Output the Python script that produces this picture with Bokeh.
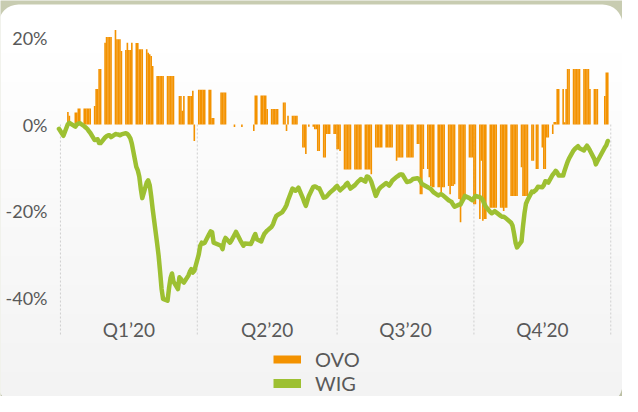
import numpy as np
import pandas as pd
from bokeh.plotting import figure
from bokeh.models import Range1d, FixedTicker, BoxAnnotation, Legend, LegendItem
from bokeh.embed import file_html
from bokeh.resources import INLINE

nan = float("nan")

# ---------------- data ----------------
first_session = "2019-12-27"
last_session = "2020-12-30"
closed_days = ["2019-12-31", "2020-01-01", "2020-01-06", "2020-04-10", "2020-04-13",
               "2020-05-01", "2020-06-11", "2020-11-11", "2020-12-24", "2020-12-25"]
quarter_edges = ["2019-12-28", "2020-03-29", "2020-07-01", "2020-10-01", "2021-01-01"]
quarter_labels = ["Q1\u201920", "Q2\u201920", "Q3\u201920", "Q4\u201920"]
y_ticks = [20, 0, -20, -40]
y_tick_labels = ["20%", "0%", "-20%", "-40%"]
series_names = ["OVO", "WIG"]

# OVO relative performance (%), one value per session
ovo = [
    nan,
    nan, 2.9, 2.0,
    2.8, 2.8, 3.7, 3.7,
    3.7, 3.7, 3.7, 3.7, 3.7,
    4.3, 8.2, 8.2, 12.8, 12.8,
    18.9, 20.2, 20.2, 20.2, 20.2,
    21.8, 19.7, 19.7, 19.7, 17.0,
    17.2, 18.9, 17.2, 17.2, 18.9,
    18.8, 18.8, 17.4, 17.4, 17.4,
    17.4, 16.6, 16.2, 15.8, 13.5,
    11.2, 11.2, 11.2, 11.2, 11.2,
    11.2, 11.2, 11.2, 11.2, 11.2,
    nan, 6.6, 6.6, 3.2, 6.6,
    6.6, 6.6, 6.6, 7.8, -3.8,
    8.0, 8.0, 8.0, 8.0, 8.0,
    8.0, 8.0, 1.5, 1.5,
    7.4, 7.4, 7.4, 7.4,
    nan, nan, nan, -0.6, nan,
    nan, -0.6, nan, nan,
    nan, nan, -1.5, 6.7, 6.7,
    6.7, 6.7, 6.7, 6.7, 3.6,
    3.6, 3.6, 3.6, 3.6, 3.6,
    nan, 5.1, 5.1, -1.5, 2.0,
    2.0, 2.0, 2.0, 2.0, nan,
    -5.3, -5.3, -6.8, -0.5,
    -0.5, -1.1, -1.1, -6.1, -6.1,
    -7.6, -7.6, -2.2, -2.2, -2.2,
    -2.2, -2.2, -5.7, -5.7, -6.1,
    -10.4, -10.4, -10.4, -10.4, -10.4,
    -10.4, -10.4, -10.4, -10.4, -10.4,
    -10.4, -10.4, -10.4, -10.4, -11.5,
    -5.3, -5.3, -5.3, -5.3, -5.3,
    -5.3, -5.3, -5.3, -5.3, -5.3,
    -8.4, -7.6, -7.6, -7.6, -7.6,
    -7.6, -7.6, -7.6, -7.6, -7.6,
    -4.5, -4.5, -16.1, -16.1, -10.3,
    -10.3, -12.2, -14.2, -14.5, -14.5,
    -14.5, -14.5, -15.7, -14.5, -14.5,
    -14.2, -16.1, -14.2, -14.2, -13.8,
    -17.2, -22.6, -17.2, -17.2, -17.2,
    -7.6, -7.6, -7.6, -18.4, -18.4,
    -21.8, -8.4, -22.2, -21.8, -21.8,
    -19.2, -19.2, -19.2, -19.2, -19.2,
    -19.2, -19.2, -20.0, -19.2, -19.2,
    -16.5, -16.5, -16.5, -16.5, -16.5,
    -9.9, -16.5, -16.5, -16.5, -16.5,
    -8.4, -8.4, -10.3, -10.3,
    -5.3, -10.3, -10.3, -3.0, -3.0,
    -2.2, 0.6, 0.6, 8.2, 8.2,
    8.2, 0.5, 8.2, 12.8, 12.8,
    12.8, 12.8, 12.8, 12.8, 12.8,
    12.8, 12.8, 12.8, 12.8, 8.2,
    8.2, 8.2, 8.2,
    6.6, 12.0, 12.0,
]

# WIG index change (%), one value per session
wig = [
    -1.0,
    -2.6, 0.1, 0.4,
    -0.5, 0.0, 0.2, 0.3,
    -0.4, -0.7, -1.0, -1.5, -1.9,
    -3.6, -3.5, -3.4, -4.3, -4.3,
    -3.0, -2.7, -2.5, -2.5, -2.9,
    -2.2, -2.3, -2.3, -2.5, -2.3,
    -2.0, -2.2, -2.6, -3.2, -4.4,
    -9.8, -10.6, -12.0, -14.8, -17.0,
    -13.4, -12.9, -14.0, -16.5, -19.5,
    -27.5, -30.3, -34.0, -38.0, -40.3,
    -40.7, -37.8, -35.5, -34.4, -36.3,
    -38.0, -35.3, -35.7, -36.2, -36.5,
    -34.9, -34.0, -33.4, -34.2, -33.8,
    -30.0, -28.0, -27.3, -27.5, -27.3,
    -25.3, -24.7, -24.9, -27.3,
    -28.0, -28.8, -27.0, -26.2,
    -27.3, -26.8, -26.1, -25.5, -24.8,
    -26.8, -27.4, -28.0, -27.5,
    -27.6, -26.9, -26.0, -25.3, -26.5,
    -27.0, -26.1, -25.3, -24.9, -24.5,
    -23.6, -23.0, -22.0, -21.2, -20.9,
    -20.3, -19.8, -19.3, -18.6, -17.5,
    -14.8, -15.0, -15.3, -15.0, -14.6,
    -17.0, -18.0, -18.8, -16.5,
    -14.4, -14.3, -14.4, -14.7, -14.7,
    -16.9, -16.8, -16.6, -16.2, -15.8,
    -14.9, -14.5, -14.2, -14.7, -15.2,
    -14.3, -13.8, -13.5, -14.2, -14.8,
    -14.0, -13.6, -13.2, -12.9, -12.6,
    -13.2, -12.0, -12.1, -12.5, -13.2,
    -16.5, -15.8, -15.0, -14.6, -14.3,
    -13.5, -13.8, -14.1, -13.6, -13.0,
    -12.1, -11.9, -11.6, -11.5, -11.6,
    -13.3, -13.2, -13.1, -12.9, -12.6,
    -12.4, -12.6, -13.1, -13.7, -13.9,
    -14.5, -14.7, -14.9, -15.3, -15.7,
    -16.4, -16.2, -16.1, -16.3, -16.6,
    -17.5, -17.7, -17.9, -18.5, -19.0,
    -18.5, -18.5, -17.8, -17.2, -16.5,
    -17.0, -17.3, -17.5, -17.0, -16.5,
    -16.8, -17.0, -17.5, -18.3, -19.0,
    -20.2, -20.5, -20.3, -20.0, -20.3,
    -21.1, -21.3, -21.3, -21.5, -21.8,
    -22.7, -23.4, -25.2, -27.3, -28.4,
    -27.0, -23.5, -20.5, -18.3, -17.5,
    -15.5, -15.6, -15.0, -14.4,
    -14.5, -14.0, -13.1, -13.2, -13.4,
    -11.6, -11.2, -10.7, -11.1, -11.8,
    -11.8, -10.6, -9.6, -8.6, -7.8,
    -6.0, -5.6, -5.3, -5.0, -5.5,
    -6.0, -5.4, -4.9, -5.4, -6.0,
    -8.0, -9.2, -8.5,
    -5.3, -4.8, -3.8,
]

# ---------------- styling ----------------
ORANGE = "#F39200"
GREEN = "#9DC032"
TEXT = "#595959"
OUTER = "#C8CCB1"
FONT = "Lato"
W, H = 622, 396

origin = pd.Timestamp("2020-01-01")
sessions = pd.bdate_range(first_session, last_session)
sessions = sessions[~sessions.isin(pd.to_datetime(closed_days))]
x = (sessions - origin).days.to_numpy().astype(float)
assert len(x) == len(ovo) == len(wig), (len(x), len(ovo), len(wig))

edges = [(pd.Timestamp(d) - origin).days for d in quarter_edges]
mids = [int((a + b) // 2) for a, b in zip(edges[:-1], edges[1:])]

x_lo, x_hi = -44.31, 373.9       # canvas edges in days
y_lo, y_hi = -62.82, 28.64       # canvas edges in %
y_axis_at = -9.35                # where the value labels hang
x_axis_at = -44.8                # where the quarter labels hang
sep_bottom = -48.96

p = figure(width=W, height=H, output_backend="svg", toolbar_location=None,
           x_range=Range1d(x_lo, x_hi), y_range=Range1d(y_lo, y_hi),
           min_border=0, min_border_left=0, min_border_right=0,
           min_border_top=0, min_border_bottom=0,
           border_fill_color=OUTER, background_fill_color=OUTER, outline_line_color=None)
p.xgrid.visible = False
p.ygrid.visible = False

# rounded panel with a soft vertical gradient
panel_kw = dict(left_units="screen", right_units="screen", top_units="screen",
                bottom_units="screen", line_color=None, level="underlay")
p.add_layout(BoxAnnotation(left=-2, right=622, top=H - 4, bottom=-8, fill_color="white",
                           fill_alpha=1.0, border_radius=20, **panel_kw))
for i in range(12):
    p.add_layout(BoxAnnotation(left=-2, right=622, top=H - 52 - i * 29, bottom=-8,
                               fill_color="#000000", fill_alpha=0.0055, **panel_kw))

# quarter separators
p.segment(x0=edges, y0=[0] * len(edges), x1=edges, y1=[sep_bottom] * len(edges),
          line_color="#cfcfcf", line_dash="2 2", line_width=1)

# bars and line
p.vbar(x=x, top=np.array(ovo, dtype=float), bottom=0, width=1.08,
       fill_color=ORANGE, line_color=None)
p.line(x=x, y=np.array(wig, dtype=float), line_color=GREEN, line_width=4.5,
       line_join="round", line_cap="round")

# axes drawn inside the canvas
p.yaxis.ticker = FixedTicker(ticks=y_ticks)
p.yaxis.major_label_overrides = {t: l for t, l in zip(y_ticks, y_tick_labels)}
p.xaxis.ticker = FixedTicker(ticks=mids)
p.xaxis.major_label_overrides = {m: l for m, l in zip(mids, quarter_labels)}
for ax in (p.xaxis, p.yaxis):
    ax.axis_line_color = None
    ax.major_tick_line_color = None
    ax.minor_tick_line_color = None
    ax.major_tick_out = 0
    ax.major_tick_in = 0
    ax.major_label_text_font = FONT
    ax.major_label_text_color = TEXT
p.yaxis.fixed_location = y_axis_at
p.yaxis.major_label_text_font_size = "18px"
p.yaxis.major_label_standoff = 5
p.xaxis.fixed_location = x_axis_at
p.xaxis.major_label_text_font_size = "19px"
p.xaxis.major_label_standoff = 0

# legend swatches: renderers without visible marks (NaN data)
sw_ovo = p.line(x=[nan, nan], y=[nan, nan], line_color=ORANGE, line_width=8)
sw_wig = p.line(x=[nan, nan], y=[nan, nan], line_color=GREEN, line_width=9)
legend = Legend(items=[LegendItem(label=series_names[0], renderers=[sw_ovo]),
                       LegendItem(label=series_names[1], renderers=[sw_wig])],
                location=(273, 1), orientation="vertical",
                glyph_width=28, glyph_height=24, label_height=24, label_standoff=14,
                spacing=0, padding=0, margin=0,
                background_fill_alpha=0, border_line_alpha=0,
                label_text_font=FONT, label_text_font_size="20px", label_text_color=TEXT)
p.add_layout(legend)

open("out.html", "w").write(file_html(p, INLINE))
